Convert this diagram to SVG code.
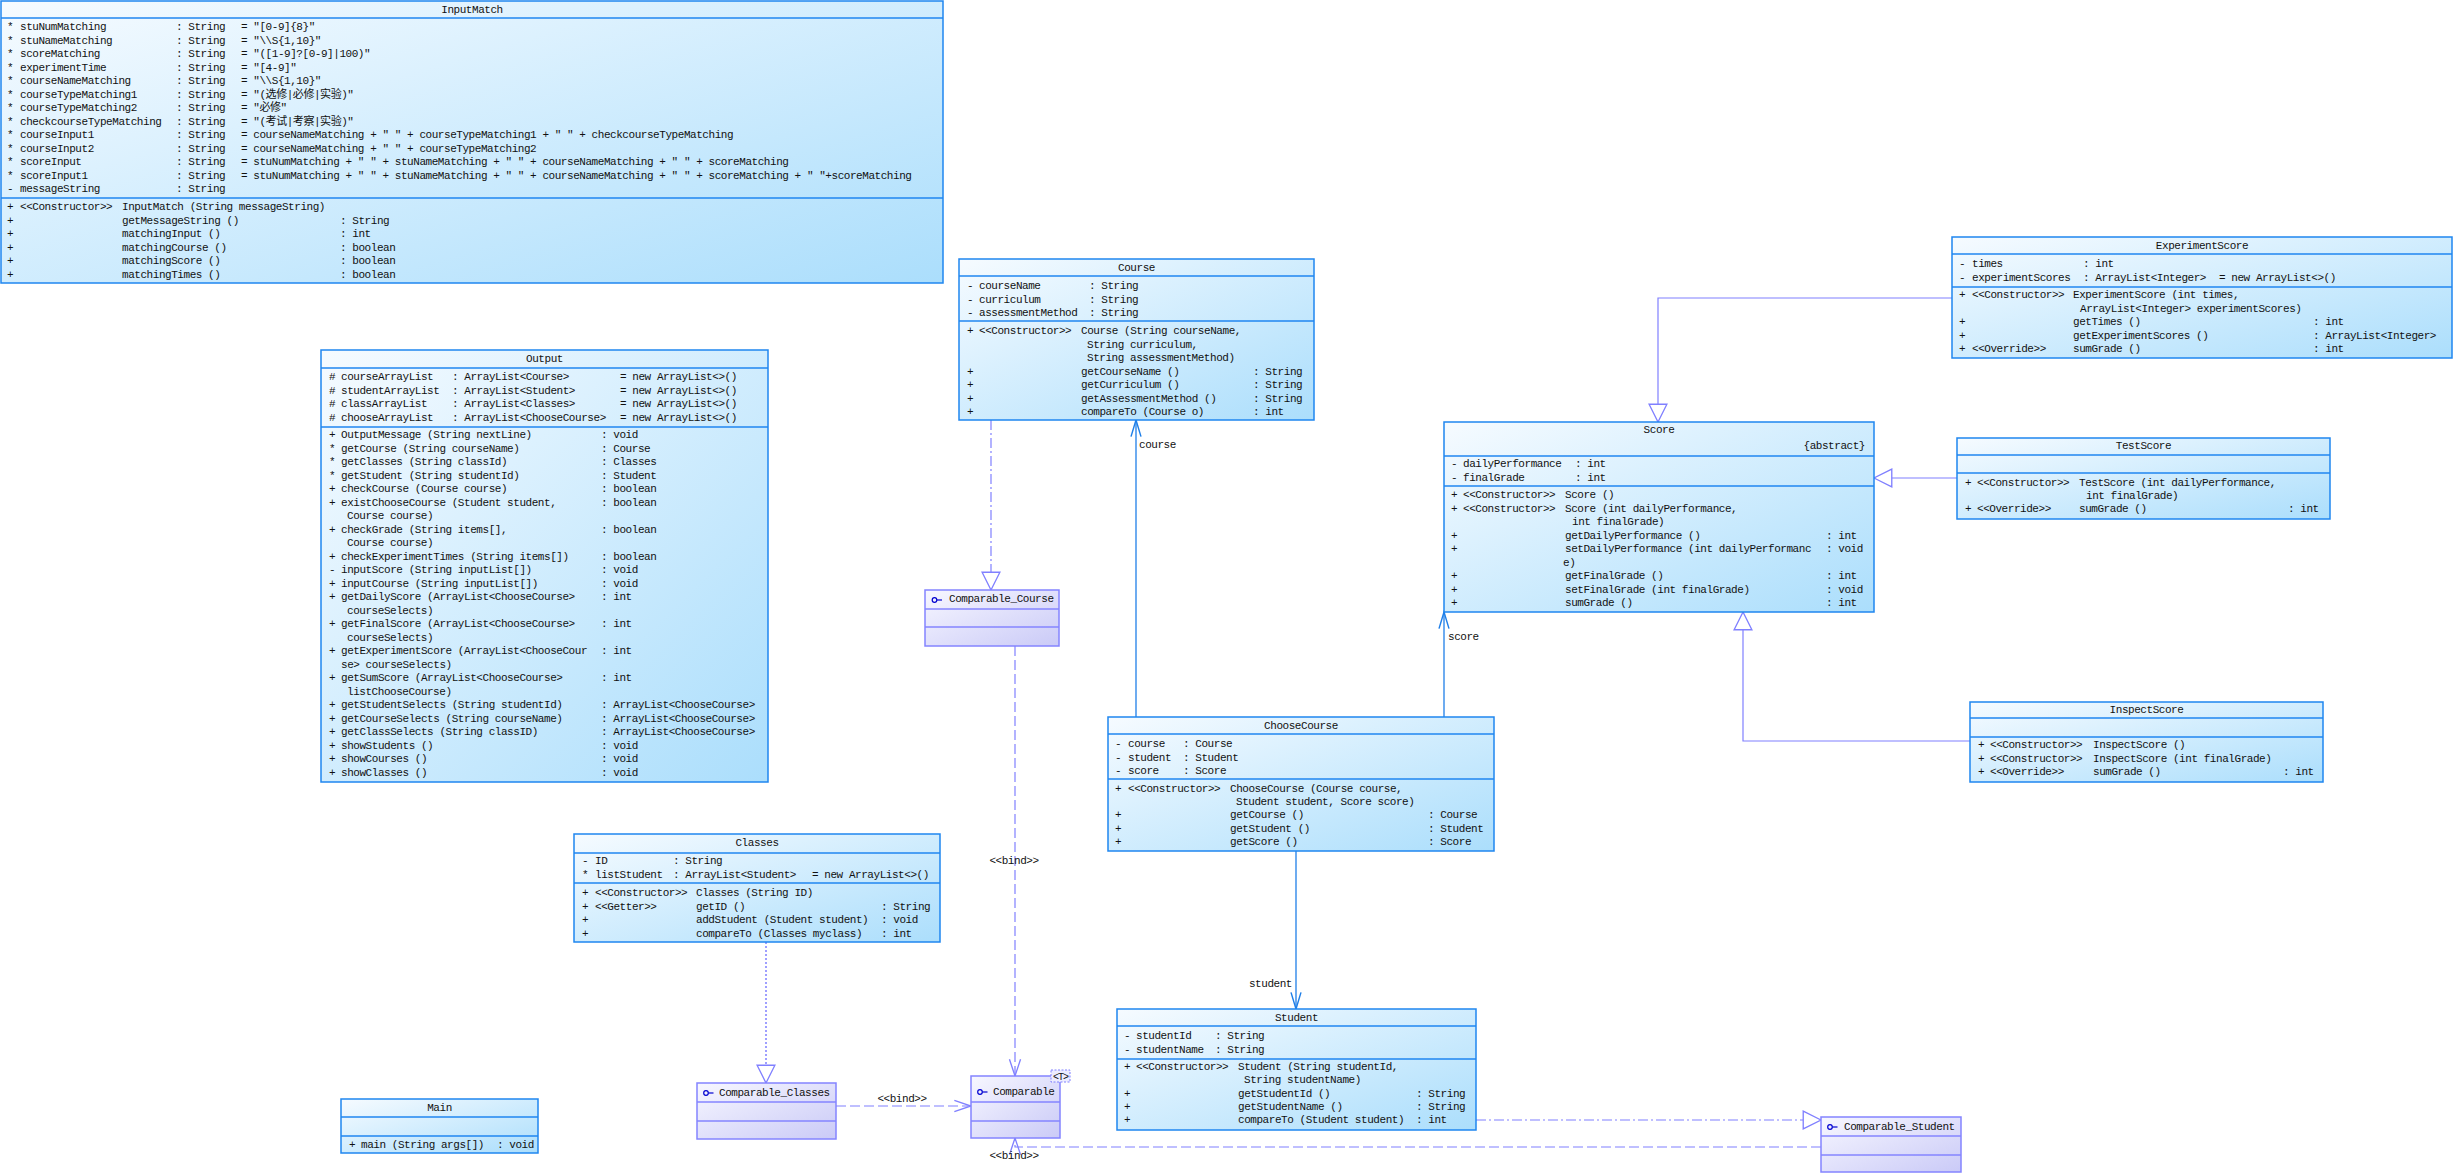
<svg xmlns="http://www.w3.org/2000/svg" width="2454" height="1175" viewBox="0 0 2454 1175">
<style>
.cls{stroke:#1f86f0;stroke-width:1.5;fill:url(#gc)}
.itf{stroke:#8484ff;stroke-width:1.5;fill:url(#gi)}
.dv{stroke:#1f86f0;stroke-width:1.5}
.dvi{stroke:#8484ff;stroke-width:1.5}
text{font-family:"Liberation Mono","DejaVu Sans Mono","Noto Sans CJK SC",monospace;font-size:11px;letter-spacing:-0.45px;fill:#111}
.c{text-anchor:middle}
.e{text-anchor:end}
.ic{fill:none;stroke:#0000d0;stroke-width:1.2}
.asc{fill:none;stroke:#1f7fe8;stroke-width:1.3}
.gen{fill:none;stroke:#8080ff;stroke-width:1.2}
.bind{fill:none;stroke:#8080ff;stroke-width:1.2;stroke-dasharray:10,4}
.real{fill:none;stroke:#8080ff;stroke-width:1.2;stroke-dasharray:10,3,2,3}
.dot{fill:none;stroke:#8080ff;stroke-width:1.5;stroke-dasharray:2,2}
</style>
<defs>
<linearGradient id="gc" x1="0" y1="0" x2="1" y2="1">
<stop offset="0" stop-color="#f6fbff"/><stop offset="1" stop-color="#abdefc"/>
</linearGradient>
<linearGradient id="gi" x1="0" y1="0" x2="1" y2="1">
<stop offset="0" stop-color="#f7f7ff"/><stop offset="1" stop-color="#cacaf7"/>
</linearGradient>
<marker id="tri" markerUnits="userSpaceOnUse" markerWidth="20" markerHeight="20" viewBox="-17 -9 18 18" refX="0" refY="0" orient="auto">
<path d="M0,0 L-16,-8 L-16,8 Z" fill="#fff" stroke="#8080ff" stroke-width="1.2"/>
</marker>
<marker id="opn" markerUnits="userSpaceOnUse" markerWidth="20" markerHeight="20" viewBox="-16 -8 18 16" refX="0" refY="0" orient="auto">
<path d="M-15,-4.5 L0,0 L-15,4.5" fill="none" stroke="#1f7fe8" stroke-width="1.3"/>
</marker>
<marker id="opi" markerUnits="userSpaceOnUse" markerWidth="20" markerHeight="20" viewBox="-16 -8 18 16" refX="0" refY="0" orient="auto">
<path d="M-15,-5 L0,0 L-15,5" fill="none" stroke="#8080ff" stroke-width="1.2"/>
</marker>
</defs>
<rect width="2454" height="1175" fill="#fff"/>

<g id="connectors">
<path class="real" d="M991,420 V590" marker-end="url(#tri)"/>
<path class="bind" d="M1015,646 V1076" marker-end="url(#opi)"/>
<text class="c" x="1014" y="864">&lt;&lt;bind&gt;&gt;</text>
<path class="bind" d="M836,1106 H971" marker-end="url(#opi)"/>
<text class="c" x="902" y="1102">&lt;&lt;bind&gt;&gt;</text>
<path class="bind" d="M1821,1147 H1015 V1138" marker-end="url(#opi)"/>
<text class="c" x="1014" y="1159">&lt;&lt;bind&gt;&gt;</text>
<path class="dot" d="M766,942 V1083" marker-end="url(#tri)"/>
<path class="real" d="M1476,1120 H1821" marker-end="url(#tri)"/>
<path class="asc" d="M1136,717 V420" marker-end="url(#opn)"/>
<text x="1139" y="448">course</text>
<path class="asc" d="M1444,717 V612" marker-end="url(#opn)"/>
<text x="1448" y="640">score</text>
<path class="asc" d="M1296,851 V1009" marker-end="url(#opn)"/>
<text class="e" x="1292" y="987">student</text>
<path class="gen" d="M1952,298 H1658 V422" marker-end="url(#tri)"/>
<path class="gen" d="M1957,478 H1874" marker-end="url(#tri)"/>
<path class="gen" d="M1970,741 H1743 V612" marker-end="url(#tri)"/>
</g>

<g id="InputMatch">
<rect class="cls" x="1" y="1" width="942" height="282"/>
<line class="dv" x1="1" y1="18" x2="943" y2="18"/>
<line class="dv" x1="1" y1="198" x2="943" y2="198"/>
<text class="c" x="472" y="13">InputMatch</text>
<text y="30"><tspan x="7">*</tspan><tspan x="20">stuNumMatching</tspan><tspan x="176">: String</tspan><tspan x="241">= "[0-9]{8}"</tspan></text>
<text y="43.5"><tspan x="7">*</tspan><tspan x="20">stuNameMatching</tspan><tspan x="176">: String</tspan><tspan x="241">= "\\S{1,10}"</tspan></text>
<text y="57"><tspan x="7">*</tspan><tspan x="20">scoreMatching</tspan><tspan x="176">: String</tspan><tspan x="241">= "([1-9]?[0-9]|100)"</tspan></text>
<text y="70.5"><tspan x="7">*</tspan><tspan x="20">experimentTime</tspan><tspan x="176">: String</tspan><tspan x="241">= "[4-9]"</tspan></text>
<text y="84"><tspan x="7">*</tspan><tspan x="20">courseNameMatching</tspan><tspan x="176">: String</tspan><tspan x="241">= "\\S{1,10}"</tspan></text>
<text y="97.5"><tspan x="7">*</tspan><tspan x="20">courseTypeMatching1</tspan><tspan x="176">: String</tspan><tspan x="241">= "(选修|必修|实验)"</tspan></text>
<text y="111"><tspan x="7">*</tspan><tspan x="20">courseTypeMatching2</tspan><tspan x="176">: String</tspan><tspan x="241">= "必修"</tspan></text>
<text y="124.5"><tspan x="7">*</tspan><tspan x="20">checkcourseTypeMatching</tspan><tspan x="176">: String</tspan><tspan x="241">= "(考试|考察|实验)"</tspan></text>
<text y="138" xml:space="preserve"><tspan x="7">*</tspan><tspan x="20">courseInput1</tspan><tspan x="176">: String</tspan><tspan x="241">= courseNameMatching + " " + courseTypeMatching1 + " " + checkcourseTypeMatching</tspan></text>
<text y="151.5" xml:space="preserve"><tspan x="7">*</tspan><tspan x="20">courseInput2</tspan><tspan x="176">: String</tspan><tspan x="241">= courseNameMatching + " " + courseTypeMatching2</tspan></text>
<text y="165" xml:space="preserve"><tspan x="7">*</tspan><tspan x="20">scoreInput</tspan><tspan x="176">: String</tspan><tspan x="241">= stuNumMatching + " " + stuNameMatching + " " + courseNameMatching + " " + scoreMatching</tspan></text>
<text y="178.5" xml:space="preserve"><tspan x="7">*</tspan><tspan x="20">scoreInput1</tspan><tspan x="176">: String</tspan><tspan x="241">= stuNumMatching + " " + stuNameMatching + " " + courseNameMatching + " " + scoreMatching + " "+scoreMatching</tspan></text>
<text y="192"><tspan x="7">-</tspan><tspan x="20">messageString</tspan><tspan x="176">: String</tspan></text>
<text y="210"><tspan x="7">+</tspan><tspan x="20">&lt;&lt;Constructor&gt;&gt;</tspan><tspan x="122">InputMatch (String messageString)</tspan></text>
<text y="223.5"><tspan x="7">+</tspan><tspan x="122">getMessageString ()</tspan><tspan x="340">: String</tspan></text>
<text y="237"><tspan x="7">+</tspan><tspan x="122">matchingInput ()</tspan><tspan x="340">: int</tspan></text>
<text y="250.5"><tspan x="7">+</tspan><tspan x="122">matchingCourse ()</tspan><tspan x="340">: boolean</tspan></text>
<text y="264"><tspan x="7">+</tspan><tspan x="122">matchingScore ()</tspan><tspan x="340">: boolean</tspan></text>
<text y="277.5"><tspan x="7">+</tspan><tspan x="122">matchingTimes ()</tspan><tspan x="340">: boolean</tspan></text>
</g>

<g id="Output">
<rect class="cls" x="321" y="350" width="447" height="432"/>
<line class="dv" x1="321" y1="368" x2="768" y2="368"/>
<line class="dv" x1="321" y1="427" x2="768" y2="427"/>
<text class="c" x="544.5" y="362">Output</text>
<text y="380"><tspan x="329">#</tspan><tspan x="341">courseArrayList</tspan><tspan x="452">: ArrayList&lt;Course&gt;</tspan><tspan x="620">= new ArrayList&lt;&gt;()</tspan></text>
<text y="393.5"><tspan x="329">#</tspan><tspan x="341">studentArrayList</tspan><tspan x="452">: ArrayList&lt;Student&gt;</tspan><tspan x="620">= new ArrayList&lt;&gt;()</tspan></text>
<text y="407"><tspan x="329">#</tspan><tspan x="341">classArrayList</tspan><tspan x="452">: ArrayList&lt;Classes&gt;</tspan><tspan x="620">= new ArrayList&lt;&gt;()</tspan></text>
<text y="420.5"><tspan x="329">#</tspan><tspan x="341">chooseArrayList</tspan><tspan x="452">: ArrayList&lt;ChooseCourse&gt;</tspan><tspan x="620">= new ArrayList&lt;&gt;()</tspan></text>
<text y="438"><tspan x="329">+</tspan><tspan x="341">OutputMessage (String nextLine)</tspan><tspan x="601">: void</tspan></text>
<text y="451.5"><tspan x="329">*</tspan><tspan x="341">getCourse (String courseName)</tspan><tspan x="601">: Course</tspan></text>
<text y="465"><tspan x="329">*</tspan><tspan x="341">getClasses (String classId)</tspan><tspan x="601">: Classes</tspan></text>
<text y="478.5"><tspan x="329">*</tspan><tspan x="341">getStudent (String studentId)</tspan><tspan x="601">: Student</tspan></text>
<text y="492"><tspan x="329">+</tspan><tspan x="341">checkCourse (Course course)</tspan><tspan x="601">: boolean</tspan></text>
<text y="505.5"><tspan x="329">+</tspan><tspan x="341">existChooseCourse (Student student,</tspan><tspan x="601">: boolean</tspan></text>
<text y="519"><tspan x="347">Course course)</tspan></text>
<text y="532.5"><tspan x="329">+</tspan><tspan x="341">checkGrade (String items[],</tspan><tspan x="601">: boolean</tspan></text>
<text y="546"><tspan x="347">Course course)</tspan></text>
<text y="559.5"><tspan x="329">+</tspan><tspan x="341">checkExperimentTimes (String items[])</tspan><tspan x="601">: boolean</tspan></text>
<text y="573"><tspan x="329">-</tspan><tspan x="341">inputScore (String inputList[])</tspan><tspan x="601">: void</tspan></text>
<text y="586.5"><tspan x="329">+</tspan><tspan x="341">inputCourse (String inputList[])</tspan><tspan x="601">: void</tspan></text>
<text y="600"><tspan x="329">+</tspan><tspan x="341">getDailyScore (ArrayList&lt;ChooseCourse&gt;</tspan><tspan x="601">: int</tspan></text>
<text y="613.5"><tspan x="347">courseSelects)</tspan></text>
<text y="627"><tspan x="329">+</tspan><tspan x="341">getFinalScore (ArrayList&lt;ChooseCourse&gt;</tspan><tspan x="601">: int</tspan></text>
<text y="640.5"><tspan x="347">courseSelects)</tspan></text>
<text y="654"><tspan x="329">+</tspan><tspan x="341">getExperimentScore (ArrayList&lt;ChooseCour</tspan><tspan x="601">: int</tspan></text>
<text y="667.5"><tspan x="341">se&gt; courseSelects)</tspan></text>
<text y="681"><tspan x="329">+</tspan><tspan x="341">getSumScore (ArrayList&lt;ChooseCourse&gt;</tspan><tspan x="601">: int</tspan></text>
<text y="694.5"><tspan x="347">listChooseCourse)</tspan></text>
<text y="708"><tspan x="329">+</tspan><tspan x="341">getStudentSelects (String studentId)</tspan><tspan x="601">: ArrayList&lt;ChooseCourse&gt;</tspan></text>
<text y="721.5"><tspan x="329">+</tspan><tspan x="341">getCourseSelects (String courseName)</tspan><tspan x="601">: ArrayList&lt;ChooseCourse&gt;</tspan></text>
<text y="735"><tspan x="329">+</tspan><tspan x="341">getClassSelects (String classID)</tspan><tspan x="601">: ArrayList&lt;ChooseCourse&gt;</tspan></text>
<text y="748.5"><tspan x="329">+</tspan><tspan x="341">showStudents ()</tspan><tspan x="601">: void</tspan></text>
<text y="762"><tspan x="329">+</tspan><tspan x="341">showCourses ()</tspan><tspan x="601">: void</tspan></text>
<text y="775.5"><tspan x="329">+</tspan><tspan x="341">showClasses ()</tspan><tspan x="601">: void</tspan></text>
</g>

<g id="Course">
<rect class="cls" x="959" y="259" width="355" height="161"/>
<line class="dv" x1="959" y1="276" x2="1314" y2="276"/>
<line class="dv" x1="959" y1="321" x2="1314" y2="321"/>
<text class="c" x="1136.5" y="271">Course</text>
<text y="289"><tspan x="967">-</tspan><tspan x="979">courseName</tspan><tspan x="1089">: String</tspan></text>
<text y="302.5"><tspan x="967">-</tspan><tspan x="979">curriculum</tspan><tspan x="1089">: String</tspan></text>
<text y="316"><tspan x="967">-</tspan><tspan x="979">assessmentMethod</tspan><tspan x="1089">: String</tspan></text>
<text y="334"><tspan x="967">+</tspan><tspan x="979">&lt;&lt;Constructor&gt;&gt;</tspan><tspan x="1081">Course (String courseName,</tspan></text>
<text y="347.5"><tspan x="1087">String curriculum,</tspan></text>
<text y="361"><tspan x="1087">String assessmentMethod)</tspan></text>
<text y="374.5"><tspan x="967">+</tspan><tspan x="1081">getCourseName ()</tspan><tspan x="1253">: String</tspan></text>
<text y="388"><tspan x="967">+</tspan><tspan x="1081">getCurriculum ()</tspan><tspan x="1253">: String</tspan></text>
<text y="401.5"><tspan x="967">+</tspan><tspan x="1081">getAssessmentMethod ()</tspan><tspan x="1253">: String</tspan></text>
<text y="415"><tspan x="967">+</tspan><tspan x="1081">compareTo (Course o)</tspan><tspan x="1253">: int</tspan></text>
</g>

<g id="ChooseCourse">
<rect class="cls" x="1108" y="717" width="386" height="134"/>
<line class="dv" x1="1108" y1="734" x2="1494" y2="734"/>
<line class="dv" x1="1108" y1="779" x2="1494" y2="779"/>
<text class="c" x="1301" y="729">ChooseCourse</text>
<text y="747"><tspan x="1115">-</tspan><tspan x="1128">course</tspan><tspan x="1183">: Course</tspan></text>
<text y="760.5"><tspan x="1115">-</tspan><tspan x="1128">student</tspan><tspan x="1183">: Student</tspan></text>
<text y="774"><tspan x="1115">-</tspan><tspan x="1128">score</tspan><tspan x="1183">: Score</tspan></text>
<text y="792"><tspan x="1115">+</tspan><tspan x="1128">&lt;&lt;Constructor&gt;&gt;</tspan><tspan x="1230">ChooseCourse (Course course,</tspan></text>
<text y="805"><tspan x="1236">Student student, Score score)</tspan></text>
<text y="818"><tspan x="1115">+</tspan><tspan x="1230">getCourse ()</tspan><tspan x="1428">: Course</tspan></text>
<text y="831.5"><tspan x="1115">+</tspan><tspan x="1230">getStudent ()</tspan><tspan x="1428">: Student</tspan></text>
<text y="845"><tspan x="1115">+</tspan><tspan x="1230">getScore ()</tspan><tspan x="1428">: Score</tspan></text>
</g>

<g id="Student">
<rect class="cls" x="1117" y="1009" width="359" height="121"/>
<line class="dv" x1="1117" y1="1026" x2="1476" y2="1026"/>
<line class="dv" x1="1117" y1="1059" x2="1476" y2="1059"/>
<text class="c" x="1296.5" y="1021">Student</text>
<text y="1039"><tspan x="1124">-</tspan><tspan x="1136">studentId</tspan><tspan x="1215">: String</tspan></text>
<text y="1052.5"><tspan x="1124">-</tspan><tspan x="1136">studentName</tspan><tspan x="1215">: String</tspan></text>
<text y="1070"><tspan x="1124">+</tspan><tspan x="1136">&lt;&lt;Constructor&gt;&gt;</tspan><tspan x="1238">Student (String studentId,</tspan></text>
<text y="1083"><tspan x="1244">String studentName)</tspan></text>
<text y="1097"><tspan x="1124">+</tspan><tspan x="1238">getStudentId ()</tspan><tspan x="1416">: String</tspan></text>
<text y="1110"><tspan x="1124">+</tspan><tspan x="1238">getStudentName ()</tspan><tspan x="1416">: String</tspan></text>
<text y="1123"><tspan x="1124">+</tspan><tspan x="1238">compareTo (Student student)</tspan><tspan x="1416">: int</tspan></text>
</g>

<g id="Classes">
<rect class="cls" x="574" y="834" width="366" height="108"/>
<line class="dv" x1="574" y1="853" x2="940" y2="853"/>
<line class="dv" x1="574" y1="883" x2="940" y2="883"/>
<text class="c" x="757" y="846">Classes</text>
<text y="864"><tspan x="582">-</tspan><tspan x="595">ID</tspan><tspan x="673">: String</tspan></text>
<text y="878"><tspan x="582">*</tspan><tspan x="595">listStudent</tspan><tspan x="673">: ArrayList&lt;Student&gt;</tspan><tspan x="812">= new ArrayList&lt;&gt;()</tspan></text>
<text y="896"><tspan x="582">+</tspan><tspan x="595">&lt;&lt;Constructor&gt;&gt;</tspan><tspan x="696">Classes (String ID)</tspan></text>
<text y="909.5"><tspan x="582">+</tspan><tspan x="595">&lt;&lt;Getter&gt;&gt;</tspan><tspan x="696">getID ()</tspan><tspan x="881">: String</tspan></text>
<text y="923"><tspan x="582">+</tspan><tspan x="696">addStudent (Student student)</tspan><tspan x="881">: void</tspan></text>
<text y="936.5"><tspan x="582">+</tspan><tspan x="696">compareTo (Classes myclass)</tspan><tspan x="881">: int</tspan></text>
</g>

<g id="Main">
<rect class="cls" x="341" y="1099" width="197" height="54"/>
<line class="dv" x1="341" y1="1117" x2="538" y2="1117"/>
<line class="dv" x1="341" y1="1136" x2="538" y2="1136"/>
<text class="c" x="439.5" y="1111">Main</text>
<text y="1148"><tspan x="349">+</tspan><tspan x="361">main (String args[])</tspan><tspan x="497">: void</tspan></text>
</g>

<g id="Score">
<rect class="cls" x="1444" y="422" width="430" height="190"/>
<line class="dv" x1="1444" y1="456" x2="1874" y2="456"/>
<line class="dv" x1="1444" y1="486" x2="1874" y2="486"/>
<text class="c" x="1659" y="433">Score</text>
<text class="e" x="1865" y="449">{abstract}</text>
<text y="467"><tspan x="1451">-</tspan><tspan x="1463">dailyPerformance</tspan><tspan x="1575">: int</tspan></text>
<text y="480.5"><tspan x="1451">-</tspan><tspan x="1463">finalGrade</tspan><tspan x="1575">: int</tspan></text>
<text y="498"><tspan x="1451">+</tspan><tspan x="1463">&lt;&lt;Constructor&gt;&gt;</tspan><tspan x="1565">Score ()</tspan></text>
<text y="511.5"><tspan x="1451">+</tspan><tspan x="1463">&lt;&lt;Constructor&gt;&gt;</tspan><tspan x="1565">Score (int dailyPerformance,</tspan></text>
<text y="525"><tspan x="1572">int finalGrade)</tspan></text>
<text y="538.5"><tspan x="1451">+</tspan><tspan x="1565">getDailyPerformance ()</tspan><tspan x="1826">: int</tspan></text>
<text y="552"><tspan x="1451">+</tspan><tspan x="1565">setDailyPerformance (int dailyPerformanc</tspan><tspan x="1826">: void</tspan></text>
<text y="565.5"><tspan x="1563">e)</tspan></text>
<text y="579"><tspan x="1451">+</tspan><tspan x="1565">getFinalGrade ()</tspan><tspan x="1826">: int</tspan></text>
<text y="592.5"><tspan x="1451">+</tspan><tspan x="1565">setFinalGrade (int finalGrade)</tspan><tspan x="1826">: void</tspan></text>
<text y="606"><tspan x="1451">+</tspan><tspan x="1565">sumGrade ()</tspan><tspan x="1826">: int</tspan></text>
</g>

<g id="ExperimentScore">
<rect class="cls" x="1952" y="237" width="500" height="121"/>
<line class="dv" x1="1952" y1="254" x2="2452" y2="254"/>
<line class="dv" x1="1952" y1="287" x2="2452" y2="287"/>
<text class="c" x="2202" y="249">ExperimentScore</text>
<text y="267"><tspan x="1959">-</tspan><tspan x="1972">times</tspan><tspan x="2083">: int</tspan></text>
<text y="280.5"><tspan x="1959">-</tspan><tspan x="1972">experimentScores</tspan><tspan x="2083">: ArrayList&lt;Integer&gt;</tspan><tspan x="2219">= new ArrayList&lt;&gt;()</tspan></text>
<text y="298"><tspan x="1959">+</tspan><tspan x="1972">&lt;&lt;Constructor&gt;&gt;</tspan><tspan x="2073">ExperimentScore (int times,</tspan></text>
<text y="311.5"><tspan x="2080">ArrayList&lt;Integer&gt; experimentScores)</tspan></text>
<text y="325"><tspan x="1959">+</tspan><tspan x="2073">getTimes ()</tspan><tspan x="2313">: int</tspan></text>
<text y="338.5"><tspan x="1959">+</tspan><tspan x="2073">getExperimentScores ()</tspan><tspan x="2313">: ArrayList&lt;Integer&gt;</tspan></text>
<text y="352"><tspan x="1959">+</tspan><tspan x="1972">&lt;&lt;Override&gt;&gt;</tspan><tspan x="2073">sumGrade ()</tspan><tspan x="2313">: int</tspan></text>
</g>

<g id="TestScore">
<rect class="cls" x="1957" y="438" width="373" height="81"/>
<line class="dv" x1="1957" y1="455" x2="2330" y2="455"/>
<line class="dv" x1="1957" y1="473" x2="2330" y2="473"/>
<text class="c" x="2143.5" y="449">TestScore</text>
<text y="486"><tspan x="1965">+</tspan><tspan x="1977">&lt;&lt;Constructor&gt;&gt;</tspan><tspan x="2079">TestScore (int dailyPerformance,</tspan></text>
<text y="498.5"><tspan x="2086">int finalGrade)</tspan></text>
<text y="512"><tspan x="1965">+</tspan><tspan x="1977">&lt;&lt;Override&gt;&gt;</tspan><tspan x="2079">sumGrade ()</tspan><tspan x="2288">: int</tspan></text>
</g>

<g id="InspectScore">
<rect class="cls" x="1970" y="702" width="353" height="80"/>
<line class="dv" x1="1970" y1="718" x2="2323" y2="718"/>
<line class="dv" x1="1970" y1="737" x2="2323" y2="737"/>
<text class="c" x="2146.5" y="713">InspectScore</text>
<text y="748"><tspan x="1978">+</tspan><tspan x="1990">&lt;&lt;Constructor&gt;&gt;</tspan><tspan x="2093">InspectScore ()</tspan></text>
<text y="761.5"><tspan x="1978">+</tspan><tspan x="1990">&lt;&lt;Constructor&gt;&gt;</tspan><tspan x="2093">InspectScore (int finalGrade)</tspan></text>
<text y="775"><tspan x="1978">+</tspan><tspan x="1990">&lt;&lt;Override&gt;&gt;</tspan><tspan x="2093">sumGrade ()</tspan><tspan x="2283">: int</tspan></text>
</g>

<g id="Comparable_Course">
<rect class="itf" x="925" y="590" width="134" height="56"/>
<line class="dvi" x1="925" y1="609" x2="1059" y2="609"/>
<line class="dvi" x1="925" y1="627" x2="1059" y2="627"/>
<circle class="ic" cx="934.5" cy="600" r="2.3"/><line class="ic" x1="937" y1="600" x2="942" y2="600"/>
<text x="949" y="602">Comparable_Course</text>
</g>

<g id="Comparable_Classes">
<rect class="itf" x="697" y="1083" width="139" height="56"/>
<line class="dvi" x1="697" y1="1102" x2="836" y2="1102"/>
<line class="dvi" x1="697" y1="1121" x2="836" y2="1121"/>
<circle class="ic" cx="706" cy="1093" r="2.3"/><line class="ic" x1="708.5" y1="1093" x2="713.5" y2="1093"/>
<text x="719" y="1096">Comparable_Classes</text>
</g>

<g id="Comparable">
<rect class="itf" x="971" y="1076" width="89" height="62"/>
<line class="dvi" x1="971" y1="1102" x2="1060" y2="1102"/>
<line class="dvi" x1="971" y1="1121" x2="1060" y2="1121"/>
<circle class="ic" cx="980" cy="1092" r="2.3"/><line class="ic" x1="982.5" y1="1092" x2="987.5" y2="1092"/>
<text x="993" y="1095">Comparable</text>
<rect x="1051" y="1070" width="19" height="12" fill="#ececff" stroke="#8080ff" stroke-width="1" stroke-dasharray="2,1.5"/>
<text class="c" x="1060.5" y="1080" style="font-size:10px;letter-spacing:-1px">&lt;T&gt;</text>
</g>

<g id="Comparable_Student">
<rect class="itf" x="1821" y="1117" width="140" height="55"/>
<line class="dvi" x1="1821" y1="1136" x2="1961" y2="1136"/>
<line class="dvi" x1="1821" y1="1155" x2="1961" y2="1155"/>
<circle class="ic" cx="1830" cy="1127" r="2.3"/><line class="ic" x1="1832.5" y1="1127" x2="1837.5" y2="1127"/>
<text x="1844" y="1130">Comparable_Student</text>
</g>
</svg>
